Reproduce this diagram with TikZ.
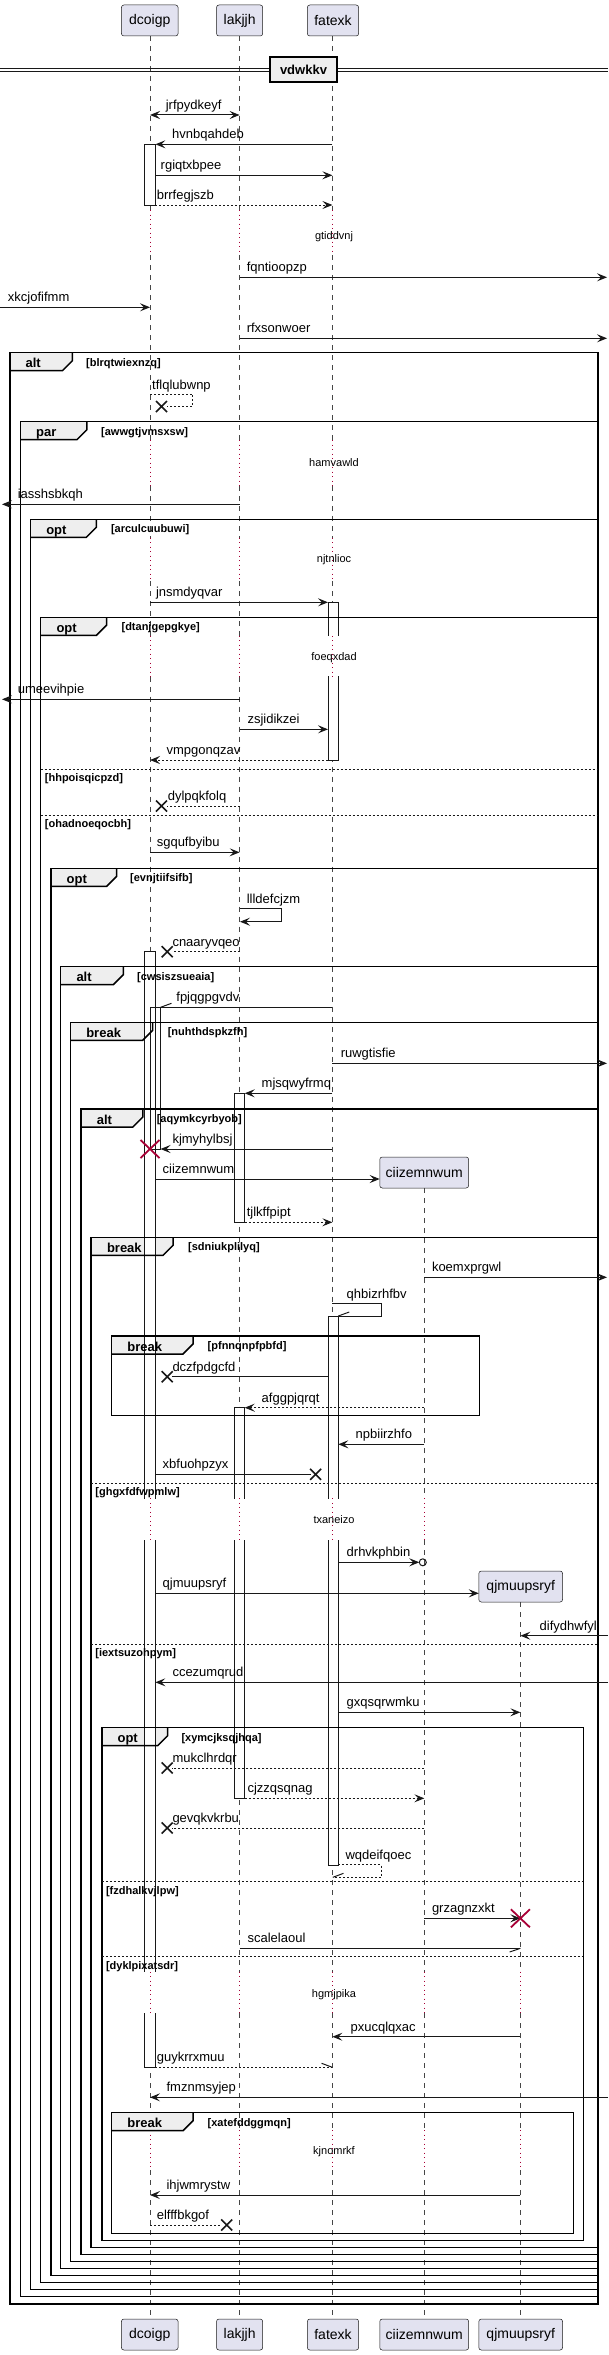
\documentclass[tikz,border=0pt]{standalone}
\usepackage{fontspec}
\setmainfont{Liberation Sans}
\usetikzlibrary{arrows.meta}
\definecolor{partfill}{HTML}{E2E2F0}
\definecolor{tabfill}{HTML}{EEEEEE}
\definecolor{ink}{HTML}{181818}
\definecolor{crim}{HTML}{A80036}
\pgfdeclarelayer{ll}\pgfdeclarelayer{tf}\pgfdeclarelayer{ac}
\pgfsetlayers{ll,tf,ac,main}
\newcommand\msgx[7]{\draw[msg,#2] (#3,#5) -- (#4,#5); \node[lbl] (#1) at (#6,#5-5.5) {#7};}
\newcommand\xcross[2]{\draw[xm] (#1-5.5,#2-5.5) -- (#1+5.5,#2+5.5) (#1-5.5,#2+5.5) -- (#1+5.5,#2-5.5);}
\newcommand\rcross[2]{\draw[rx] (#1-9.5,#2-9) -- (#1+9.5,#2+9) (#1-9.5,#2+9) -- (#1+9.5,#2-9);}
\newcommand\actbox[6]{\begin{pgfonlayer}{ac}\fill[white] (#1,#3) rectangle (#2,#4); \draw[actl] (#1,#3) -- (#1,#4) (#2,#3) -- (#2,#4); \ifnum#5=1 \draw[actl] (#1,#3) -- (#2,#3);\fi \ifnum#6=1 \draw[actl] (#1,#4) -- (#2,#4);\fi\end{pgfonlayer}}
\newcommand\frmbox[9]{%
 \begin{pgfonlayer}{tf}\fill[tabfill] (#2,#3) -- (#6,#3) -- (#6,#3+8) -- (#6-10,#3+18) -- (#2,#3+18) -- cycle;\end{pgfonlayer}
 \draw[frm] (#2,#3) rectangle (#4,#5);
 \draw[frm] (#6,#3) -- (#6,#3+8) -- (#6-10,#3+18) -- (#2,#3+18);
 \node[kw] (#1k) at (#2+15.6,#3+15) {#7};
 \node[grd] (#1g) at (#8,#3+13.5) {#9};}
\newcommand\elsebar[5]{\draw[divl] (#2,#4) -- (#3,#4); \node[grd] (#1) at (#2+4,#4+12.5) {#5};}
\begin{document}
\begin{tikzpicture}[x=1pt,y=-1pt,
 msg/.style={draw=ink, line width=1pt},
 arr/.style={-{Stealth[length=10pt,width=8pt,inset=4pt]}},
 arr2/.style={{Stealth[length=10pt,width=8pt,inset=4pt]}-{Stealth[length=10pt,width=8pt,inset=4pt]}},
 dsh/.style={dash pattern=on 2pt off 2pt},
 lbl/.style={anchor=base west, inner sep=0pt, font=\fontsize{13}{15}\selectfont, text=black},
 dlytxt/.style={inner sep=0pt, font=\fontsize{11}{13}\selectfont, text=black},
 lifel/.style={draw=ink!80, line width=0.5pt, dash pattern=on 5pt off 5pt},
 delayl/.style={draw=crim, line width=0.8pt, dash pattern=on 1pt off 3.5pt},
 partbox/.style={draw=ink, line width=0.5pt, fill=partfill, rounded corners=2.5pt, font=\fontsize{14}{16}\selectfont, inner sep=0pt, minimum height=31pt},
 actl/.style={draw=ink, line width=1pt, line cap=rect},
 frm/.style={draw=black, line width=1.5pt},
 divl/.style={draw=ink, line width=1pt, dash pattern=on 2pt off 2pt},
 kw/.style={anchor=base west, inner sep=0pt, font=\fontsize{13}{15}\selectfont\bfseries},
 grd/.style={anchor=base west, inner sep=0pt, font=\fontsize{11}{13}\selectfont\bfseries},
 xm/.style={draw=ink, line width=1.6pt},
 rx/.style={draw=crim, line width=1.8pt}]
\useasboundingbox (0,0) rectangle (608,2355);

% participants
\node[partbox, minimum width=56.7pt] (pD) at (149.75,20.5) {dcoigp};
\node[partbox, minimum width=46.2pt] (pL) at (239.6,20.5) {lakjjh};
\node[partbox, minimum width=51.3pt] (pF) at (333,20.5) {fatexk};
\node[partbox, minimum width=56.7pt] (pDb) at (149.75,2334.5) {dcoigp};
\node[partbox, minimum width=46.2pt] (pLb) at (239.6,2334.5) {lakjjh};
\node[partbox, minimum width=51.3pt] (pFb) at (333,2334.5) {fatexk};
\node[partbox, minimum width=88.9pt] (pCb) at (424.2,2334.5) {ciizemnwum};
\node[partbox, minimum width=83.8pt] (pQb) at (520.7,2334.5) {qjmuupsryf};
\node[partbox, minimum width=88.9pt] (pC) at (424.2,1172.5) {ciizemnwum};
\node[partbox, minimum width=83.8pt] (pQ) at (520.7,1586.5) {qjmuupsryf};

% lifelines
\begin{pgfonlayer}{ll}
\foreach \x in {150,239.6,332.4}{
 \foreach \a/\b in {36/210, 255/440, 486/537.7, 581/635.7, 676.7/1498.3, 1540/1971.7, 2013.3/2130, 2170/2319}
  \draw[lifel] (\x,\a) -- (\x,\b);
 \foreach \a/\b in {210/255, 440/486, 537.7/581, 635.7/676.7, 1498.3/1540, 1971.7/2013.3, 2130/2170}
  \draw[delayl] (\x,\a) -- (\x,\b);}
\foreach \a/\b in {1188/1498.3, 1540/1971.7, 2013.3/2130, 2170/2319} \draw[lifel] (424.4,\a) -- (424.4,\b);
\foreach \a/\b in {1498.3/1540, 1971.7/2013.3, 2130/2170} \draw[delayl] (424.4,\a) -- (424.4,\b);
\foreach \a/\b in {1602/1971.7, 2013.3/2130, 2170/2319} \draw[lifel] (520.4,\a) -- (520.4,\b);
\foreach \a/\b in {1971.7/2013.3, 2130/2170} \draw[delayl] (520.4,\a) -- (520.4,\b);
\end{pgfonlayer}

% separator
\draw[draw=ink, line width=1pt] (0,68.3) -- (608,68.3) (0,71.7) -- (608,71.7);
\node[draw=black, line width=1.5pt, fill=tabfill, minimum width=67pt, minimum height=25pt, inner sep=0pt, font=\fontsize{13}{15}\selectfont\bfseries] (sep) at (303.5,69.5) {vdwkkv};

% delays
\node[dlytxt] (d1) at (334,236.7) {gtiddvnj};
\node[dlytxt] (d2) at (334,462.3) {hamvawld};
\node[dlytxt] (d3) at (334,559.3) {njtnlioc};
\node[dlytxt] (d4) at (334,657.3) {foeqxdad};
\node[dlytxt] (d5) at (334,1520) {txaneizo};
\node[dlytxt] (d6) at (334,1994.3) {hgmjpika};
\node[dlytxt] (d7) at (334,2151.7) {kjnomrkf};

% frames
\frmbox{f1}{9.8}{352.7}{597.8}{2304}{72.4}{alt}{86}{[blrqtwiexnzq]}
\frmbox{f2}{20.4}{421.7}{597.8}{2296.7}{86.9}{par}{101}{[awwgtjvmsxsw]}
\frmbox{f3}{30.5}{519.3}{597.8}{2289.3}{96.3}{opt}{110.8}{[arculcuubuwi]}
\frmbox{f4}{40.7}{617.3}{597.8}{2282.3}{106.5}{opt}{121.4}{[dtanjgepgkye]}
\elsebar{e1}{40.7}{597.8}{769}{[hhpoisqicpzd]}
\elsebar{e2}{40.7}{597.8}{815}{[ohadnoeqocbh]}
\frmbox{f5}{50.9}{868.3}{597.8}{2275.7}{116.7}{opt}{130}{[evnjtiifsifb]}
\frmbox{f6}{60.7}{966.7}{597.8}{2268.3}{123.3}{alt}{137}{[cwsiszsueaia]}
\frmbox{f7}{70.5}{1022.3}{597.8}{2261.7}{152.7}{break}{167.6}{[nuhthdspkzfh]}
\frmbox{f8}{81}{1109}{597.8}{2254.3}{142.9}{alt}{156.6}{[aqymkcyrbyob]}
\frmbox{f9}{91.2}{1237.3}{597.8}{2247.3}{173}{break}{188}{[sdniukplilyq]}
\elsebar{e3}{91.2}{597.8}{1483.3}{[ghgxfdfwpmlw]}
\elsebar{e4}{91.2}{597.8}{1644.3}{[iextsuzohpym]}
\frmbox{f10}{111.6}{1336}{479.6}{1415.7}{193}{break}{207.5}{[pfnnqnpfpbfd]}
\frmbox{f11}{101.8}{1727.7}{583.3}{2240.7}{167.6}{opt}{181.3}{[xymcjksqjhqa]}
\elsebar{e5}{101.8}{583.3}{1881.7}{[fzdhalkvjlpw]}
\elsebar{e6}{101.8}{583.3}{1956.7}{[dyklpixatsdr]}
\frmbox{f12}{111.6}{2112.7}{573.5}{2233.3}{193}{break}{207.5}{[xatefddggmqn]}

% activations
\actbox{144.9}{155.4}{144.3}{205}{1}{1}
\actbox{328}{338.3}{602.3}{635.7}{1}{0}
\actbox{328}{338.3}{676.7}{760}{0}{1}
\actbox{144.9}{155.4}{951.7}{1498.3}{1}{0}
\actbox{144.9}{155.4}{1540}{1971.7}{0}{0}
\actbox{144.9}{155.4}{2013.3}{2067.3}{0}{1}
\begin{pgfonlayer}{ac}\draw[actl] (150,1007.3) rectangle (160.5,1149);\end{pgfonlayer}
\actbox{234.5}{244.7}{1093.3}{1222.3}{1}{1}
\actbox{328}{338.3}{1316}{1498.3}{1}{0}
\actbox{328}{338.3}{1540}{1865}{0}{1}
\actbox{234.5}{244.7}{1407.7}{1498.3}{1}{0}
\actbox{234.5}{244.7}{1540}{1798.3}{0}{1}

% messages
\msgx{m1}{arr2}{150}{239.6}{115}{165.6}{jrfpydkeyf}
\msgx{m2}{arr}{332.4}{155.4}{144.3}{172}{hvnbqahdeb}
\msgx{m3}{arr}{155.4}{332.4}{175.3}{160.5}{rgiqtxbpee}
\msgx{m4}{arr,dsh}{155.4}{332.4}{205}{156.6}{brrfegjszb}
\msgx{m5}{arr}{239.6}{607}{277.3}{246.6}{fqntioopzp}
\msgx{m6}{arr}{0}{150}{307.3}{7.8}{xkcjofifmm}
\msgx{m7}{arr}{239.6}{607}{338.3}{246.6}{rfxsonwoer}
\draw[msg,dsh] (150,394) -- (192.6,394) -- (192.6,406.5) -- (166.5,406.5);
\xcross{161.5}{406.5}
\node[lbl] (m8) at (152,389) {tflqlubwnp};
\msgx{m9}{arr}{239.6}{2}{504.3}{17.6}{iasshsbkqh}
\msgx{m10}{arr}{150}{328}{602.3}{155.8}{jnsmdyqvar}
\msgx{m11}{arr}{239.6}{2}{699.3}{17.6}{umeevihpie}
\msgx{m12}{arr}{239.6}{328}{729.3}{247.4}{zsjidikzei}
\msgx{m13}{arr,dsh}{328}{150}{760}{166.4}{vmpgonqzav}
\msgx{m14}{dsh}{239.6}{166.5}{806}{167.6}{dylpqkfolq}
\xcross{161.5}{806}
\msgx{m15}{arr}{150}{239.6}{852.3}{156.6}{sgqufbyibu}
\draw[msg,arr] (239.6,908.3) -- (281.9,908.3) -- (281.9,921.7) -- (240,921.7);
\node[lbl] (m16) at (246.6,903) {llldefcjzm};
\msgx{m17}{dsh}{239.6}{172}{951.7}{172.3}{cnaaryvqeo}
\xcross{167.2}{951.7}
\msgx{m18}{}{332.4}{160.5}{1007.3}{176.2}{fpjqgpgvdv}
\draw[msg] (160.5,1007.3) -- (171.5,1003.3);
\msgx{m19}{arr}{332.4}{607}{1063.3}{340.6}{ruwgtisfie}
\msgx{m20}{arr}{332.4}{244.7}{1093.3}{261.5}{mjsqwyfrmq}
\msgx{m21}{arr}{332.4}{160.5}{1149}{172.3}{kjmyhylbsj}
\rcross{150}{1149}
\msgx{m22}{arr}{155.4}{379.7}{1179}{162.5}{ciizemnwum}
\msgx{m23}{arr,dsh}{244.7}{332.4}{1222.3}{246.6}{tjlkffpipt}
\msgx{m24}{arr}{424.4}{607}{1277.3}{431.8}{koemxprgwl}
\draw[msg] (332.4,1303.3) -- (381,1303.3) -- (381,1316) -- (338.3,1316);
\draw[msg] (338.3,1316) -- (349.3,1312);
\node[lbl] (m25) at (346.5,1298) {qhbizrhfbv};
\msgx{m26}{}{328}{172}{1376.7}{172.3}{dczfpdgcfd}
\xcross{167.2}{1376.7}
\msgx{m27}{arr,dsh}{424.4}{244.7}{1407.7}{261.5}{afggpjqrqt}
\msgx{m28}{arr}{424.4}{338.3}{1444.3}{355.5}{npbiirzhfo}
\msgx{m29}{}{155.4}{310.6}{1474.3}{162.5}{xbfuohpzyx}
\xcross{315.6}{1474.3}
\msgx{m30}{arr}{338.3}{419.3}{1562.3}{346.5}{drhvkphbin}
\draw[msg] (422.8,1562.3) circle[radius=3.5pt];
\msgx{m31}{arr}{155.4}{478.8}{1593.3}{162.5}{qjmuupsryf}
\msgx{m32}{arr}{608}{520.4}{1635.7}{539.5}{difydhwfyl}
\msgx{m33}{arr}{608}{155.4}{1682.3}{172.3}{ccezumqrud}
\msgx{m34}{arr}{338.3}{520.4}{1712.3}{346.5}{gxqsqrwmku}
\msgx{m35}{dsh}{424.4}{172}{1768}{172.3}{mukclhrdqr}
\xcross{167.2}{1768}
\msgx{m36}{arr,dsh}{244.7}{424.4}{1798.3}{247.4}{cjzzqsqnag}
\msgx{m37}{dsh}{424.4}{172}{1828}{172.3}{gevqkvkrbu}
\xcross{167.2}{1828}
\draw[msg,dsh] (338.3,1864.3) -- (381,1864.3) -- (381,1877.3) -- (332.8,1877.3);
\draw[msg] (332.8,1877.3) -- (343.5,1873.3);
\node[lbl] (m38) at (345.3,1859) {wqdeifqoec};
\msgx{m39}{arr}{424.4}{520.4}{1918.3}{431.8}{grzagnzxkt}
\rcross{520.4}{1918.3}
\msgx{m40}{}{239.6}{520.4}{1948.3}{247.4}{scalelaoul}
\draw[msg] (520.4,1948.3) -- (509.6,1952);
\msgx{m41}{arr}{520.4}{332.4}{2036.7}{350.4}{pxucqlqxac}
\msgx{m42}{dsh}{155.4}{332.4}{2067.3}{156.6}{guykrrxmuu}
\draw[msg] (332.4,2067.3) -- (321.6,2063.3);
\msgx{m43}{arr}{608}{150}{2097.3}{166.4}{fmznmsyjep}
\msgx{m44}{arr}{520.4}{150}{2195}{166.4}{ihjwmrystw}
\msgx{m45}{dsh}{150}{221.7}{2225}{156.6}{elfffbkgof}
\xcross{226.7}{2225}
\end{tikzpicture}
\end{document}
